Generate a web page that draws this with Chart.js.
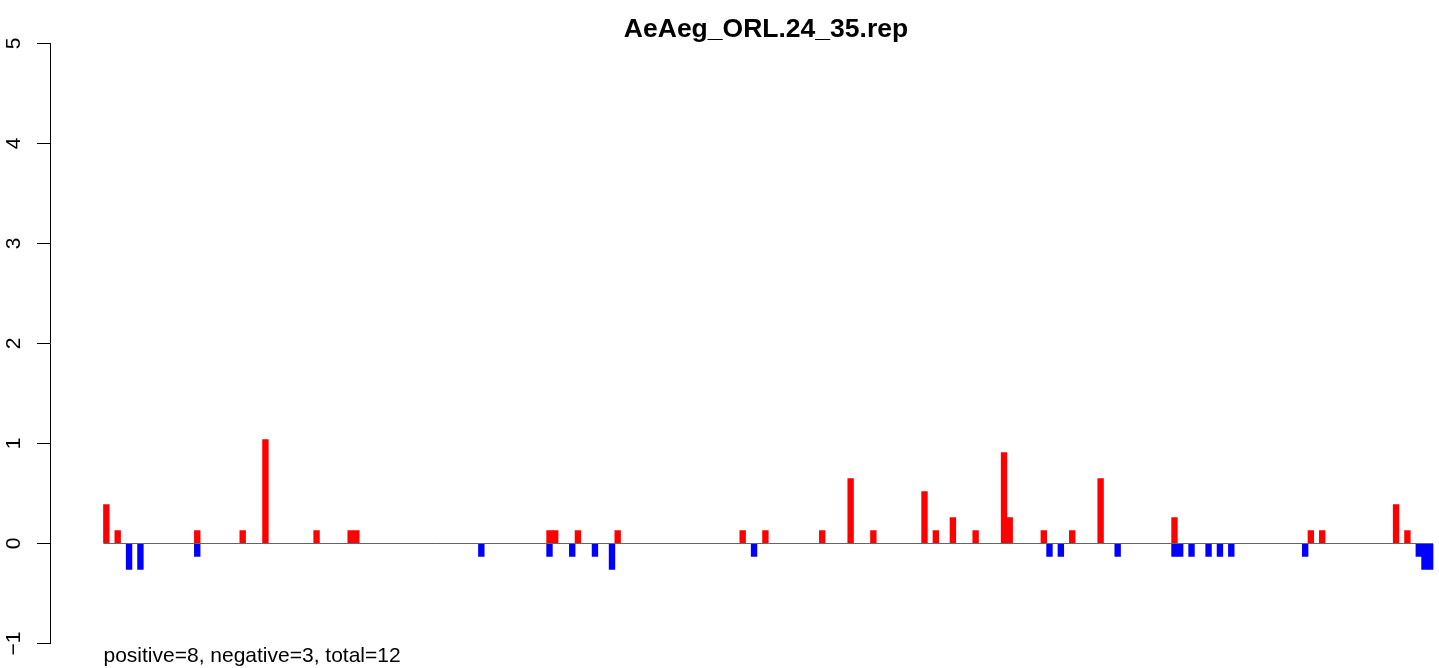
<!DOCTYPE html>
<html><head><meta charset="utf-8">
<script src="https://cdn.jsdelivr.net/npm/chart.js@4/dist/chart.umd.min.js"></script>
<style>html,body{margin:0;padding:0;background:#fff;overflow:hidden;}</style>
</head><body>
<canvas id="c" width="1439" height="668"></canvas>
<script>
const chartTitle = 'AeAeg_ORL.24_35.rep';
const footnote = 'positive=8, negative=3, total=12';
const slotCount = 234;
const posIdx = [0,2,16,24,28,37,43,44,78,79,83,90,112,116,126,131,135,144,146,149,153,158,159,165,170,175,188,212,214,227,229];
const posVal = [0.39,0.13,0.13,0.13,1.04,0.13,0.13,0.13,0.13,0.13,0.13,0.13,0.13,0.13,0.13,0.65,0.13,0.52,0.13,0.26,0.13,0.91,0.26,0.13,0.13,0.65,0.26,0.13,0.13,0.39,0.13];
const negIdx = [4,6,16,66,78,82,86,89,114,166,168,178,188,189,191,194,196,198,211,231,232,233];
const negVal = [-0.26,-0.26,-0.13,-0.13,-0.13,-0.13,-0.13,-0.26,-0.13,-0.13,-0.13,-0.13,-0.13,-0.13,-0.13,-0.13,-0.13,-0.13,-0.13,-0.13,-0.26,-0.26];
const yTicks = [-1,0,1,2,3,4,5];

const posData = posIdx.map((i,k)=>({x:i+0.5,y:posVal[k]}));
const negData = negIdx.map((i,k)=>({x:i+0.5,y:negVal[k]}));

const FONT = '"Liberation Sans", Arial, Helvetica, sans-serif';
const textPlugin = {
  id:'rtext',
  afterDraw(chart){
    const {ctx, scales:{x,y}} = chart;
    ctx.save();
    ctx.fillStyle = '#000';
    ctx.textBaseline = 'alphabetic';
    ctx.font = 'bold 26.5px ' + FONT;
    ctx.textAlign = 'center';
    ctx.fillText(chartTitle, 766, 37);
    ctx.font = '21px ' + FONT;
    ctx.textAlign = 'left';
    ctx.fillText(footnote, x.getPixelForValue(0), 662);
    yTicks.forEach(v=>{
      const py = y.getPixelForValue(v);
      ctx.save();
      ctx.translate(20, py);
      ctx.rotate(-Math.PI/2);
      ctx.textAlign = 'center';
      ctx.fillText(String(v).replace('-', '\u2212'), 0, 0);
      ctx.restore();
    });
    ctx.restore();
  }
};

new Chart(document.getElementById('c'), {
  type: 'bar',
  data: { datasets: [
    {type:'line', data:[{x:0,y:0},{x:slotCount,y:0}], borderColor:'#666666', borderWidth:1, pointRadius:0, order:0},
    {type:'bar', data:posData, backgroundColor:'#ff0000', borderWidth:0, barThickness:5.72, grouped:false, order:1},
    {type:'bar', data:negData, backgroundColor:'#0000ff', borderWidth:0, barThickness:5.72, grouped:false, order:2}
  ]},
  options: {
    responsive:false, animation:false, devicePixelRatio:1,
    layout:{padding:{top:43.5, bottom:24.5, left:0, right:0}},
    plugins:{legend:{display:false}, title:{display:false}, tooltip:{enabled:false}},
    scales:{
      x:{type:'linear', min:-9.4164, max:235.056, offset:false, display:false},
      y:{type:'linear', min:-1, max:5,
         ticks:{stepSize:1, display:false},
         grid:{drawOnChartArea:false, drawTicks:true, tickLength:13, color:'#000', lineWidth:1},
         border:{display:true, color:'#000', width:1},
         afterFit(s){ s.width = 50; s.paddingTop = 0; s.paddingBottom = 0; }
      }
    }
  },
  plugins:[textPlugin]
});
</script>
</body></html>
